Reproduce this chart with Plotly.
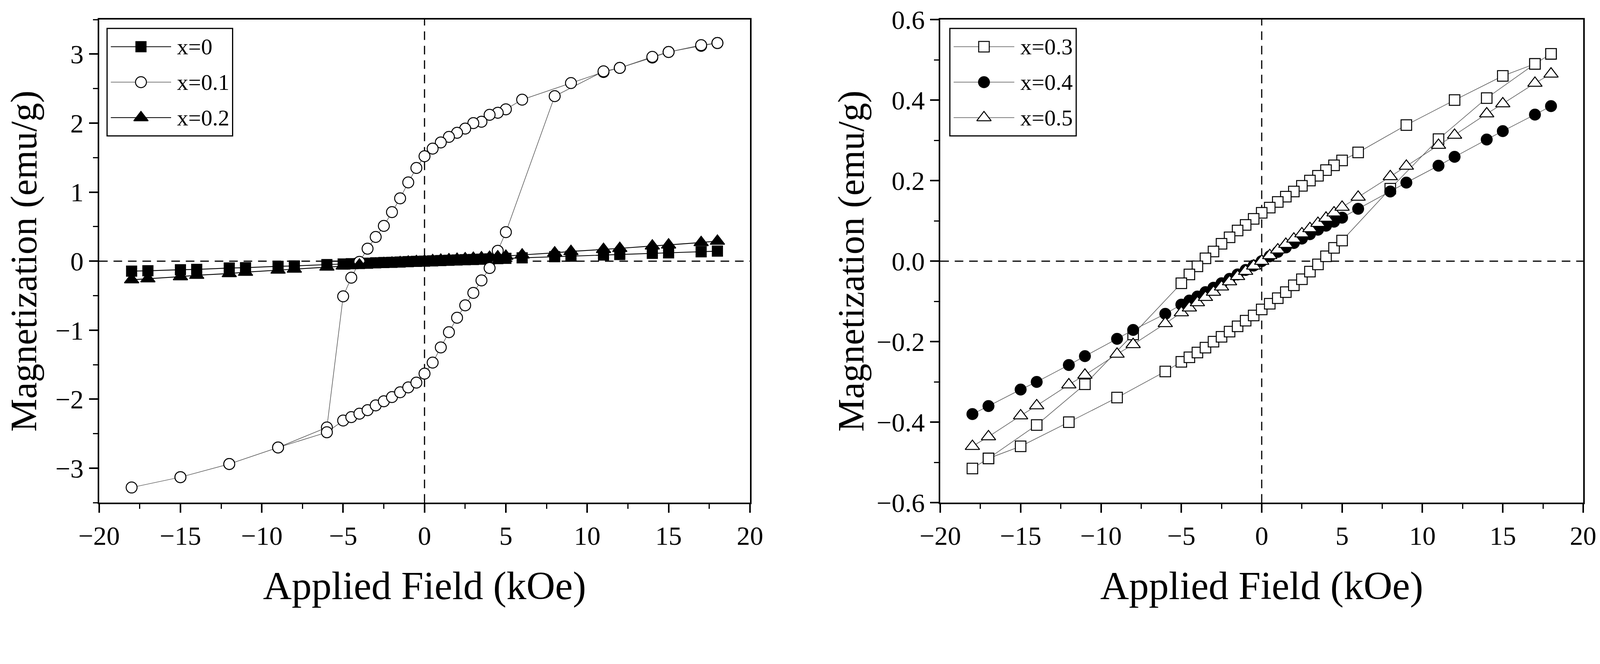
import plotly.graph_objects as go

# ---- left panel: x = 0, 0.1, 0.2 ----
H_x0 = [-18, -17, -15, -14, -12, -11, -9, -8, -6, -5, -4.5, -4, -3.5, -3, -2.5, -2, -1.5, -1, -0.5,
        0, 0.5, 1, 1.5, 2, 2.5, 3, 3.5, 4, 4.5, 5, 6, 8, 9, 11, 12, 14, 15, 17, 18]
M_x0 = [-0.145, -0.14, -0.125, -0.12, -0.10, -0.095, -0.075, -0.07, -0.05, -0.042, -0.038, -0.034,
        -0.03, -0.025, -0.021, -0.017, -0.013, -0.008, -0.004, 0.0, 0.004, 0.008, 0.012, 0.016, 0.02,
        0.024, 0.028, 0.032, 0.036, 0.04, 0.048, 0.064, 0.072, 0.088, 0.096, 0.112, 0.12, 0.136, 0.145]

H_x02 = H_x0
M_x02 = [-0.27, -0.255, -0.225, -0.205, -0.18, -0.16, -0.13, -0.115, -0.085, -0.07, -0.063, -0.056,
         -0.049, -0.042, -0.035, -0.028, -0.021, -0.014, -0.007, 0.0, 0.007, 0.014, 0.021, 0.028, 0.035,
         0.042, 0.049, 0.056, 0.063, 0.072, 0.09, 0.12, 0.14, 0.17, 0.185, 0.22, 0.235, 0.27, 0.29]

# x = 0.1 loop: descending branch then ascending branch
H_x01 = [18, 17, 15, 14, 12, 11, 9, 6, 5, 4.5, 4, 3.5, 3, 2.5, 2, 1.5, 1, 0.5, 0, -0.5, -1, -1.5, -2,
         -2.5, -3, -3.5, -4, -4.5, -5, -6, -9, -12, -15, -18,
         -15, -12, -9, -6, -5, -4.5, -4, -3.5, -3, -2.5, -2, -1.5, -1, -0.5, 0, 0.5, 1, 1.5, 2, 2.5,
         3, 3.5, 4, 4.5, 5, 8, 11, 12, 14, 15, 17, 18]
M_x01 = [3.16, 3.12, 3.03, 2.95, 2.80, 2.74, 2.58, 2.34, 2.20, 2.15, 2.12, 2.02, 2.00, 1.92, 1.86,
         1.80, 1.72, 1.63, 1.52, 1.35, 1.14, 0.91, 0.71, 0.51, 0.35, 0.18, -0.01, -0.24, -0.51,
         -2.41, -2.70, -2.94, -3.13, -3.28,
         -3.13, -2.94, -2.70, -2.48, -2.31, -2.26, -2.21, -2.16, -2.09, -2.03, -1.97, -1.90, -1.83,
         -1.76, -1.63, -1.47, -1.25, -1.03, -0.82, -0.64, -0.46, -0.28, -0.10, 0.15, 0.42,
         2.39, 2.75, 2.80, 2.96, 3.03, 3.13, 3.16]

# ---- right panel: x = 0.3, 0.4, 0.5 ----
H_x03 = [18, 17, 15, 12, 9, 6, 5, 4.5, 4, 3.5, 3, 2.5, 2, 1.5, 1, 0.5, 0, -0.5, -1, -1.5, -2, -2.5,
         -3, -3.5, -4, -4.5, -5, -8, -11, -14, -17, -18,
         -17, -15, -12, -9, -6, -5, -4.5, -4, -3.5, -3, -2.5, -2, -1.5, -1, -0.5, 0, 0.5, 1, 1.5, 2,
         2.5, 3, 3.5, 4, 4.5, 5, 8, 11, 14, 17, 18]
M_x03 = [0.515, 0.49, 0.46, 0.40, 0.338, 0.27, 0.25, 0.238, 0.226, 0.212, 0.20, 0.187, 0.173, 0.16,
         0.147, 0.133, 0.12, 0.105, 0.09, 0.076, 0.059, 0.043, 0.024, 0.007, -0.013, -0.033, -0.055,
         -0.182, -0.306, -0.407, -0.49, -0.515,
         -0.49, -0.46, -0.40, -0.339, -0.274, -0.25, -0.239, -0.227, -0.215, -0.20, -0.188, -0.175,
         -0.162, -0.148, -0.135, -0.12, -0.106, -0.092, -0.077, -0.06, -0.045, -0.026, -0.008, 0.012,
         0.033, 0.051, 0.18, 0.303, 0.405, 0.49, 0.515]

H_x04 = [-18, -17, -15, -14, -12, -11, -9, -8, -6, -5, -4.5, -4, -3.5, -3, -2.5, -2, -1.5, -1, -0.5,
         0, 0.5, 1, 1.5, 2, 2.5, 3, 3.5, 4, 4.5, 5, 6, 8, 9, 11, 12, 14, 15, 17, 18]
M_x04 = [-0.38, -0.36, -0.319, -0.30, -0.258, -0.236, -0.193, -0.171, -0.131, -0.108, -0.098, -0.088,
         -0.077, -0.066, -0.055, -0.044, -0.033, -0.022, -0.011, 0.0, 0.012, 0.023, 0.034, 0.045, 0.056,
         0.067, 0.078, 0.088, 0.098, 0.108, 0.13, 0.173, 0.195, 0.237, 0.259, 0.302, 0.323, 0.364, 0.385]

H_x05 = H_x04
M_x05 = [-0.46, -0.436, -0.384, -0.359, -0.307, -0.283, -0.231, -0.207, -0.155, -0.128, -0.116, -0.103,
         -0.09, -0.077, -0.064, -0.051, -0.038, -0.025, -0.012, 0.0, 0.014, 0.028, 0.042, 0.055, 0.068,
         0.081, 0.094, 0.107, 0.12, 0.134, 0.159, 0.21, 0.236, 0.288, 0.313, 0.366, 0.391, 0.442, 0.465]

LEFT_NAMES = ["x=0", "x=0.1", "x=0.2"]
RIGHT_NAMES = ["x=0.3", "x=0.4", "x=0.5"]

FONT = "Liberation Serif"

fig = go.Figure()

# style per series: symbol, fill, size, line width, line colour
styles = {
    "x=0": ("square", "black", 26, 2.2, "black"),
    "x=0.1": ("circle", "white", 28, 1.5, "#555555"),
    "x=0.2": ("triangle-up", "black", 32, 2.2, "black"),
    "x=0.3": ("square", "white", 27, 1.5, "#555555"),
    "x=0.4": ("circle", "black", 28, 1.5, "#555555"),
    "x=0.5": ("triangle-up", "white", 32, 1.5, "#555555"),
}


def add(h, m, name, xa, ya):
    sym, fill, size, lw, lc = styles[name]
    fig.add_trace(go.Scatter(
        x=h, y=m, name=name, mode="lines+markers", showlegend=False,
        xaxis=xa, yaxis=ya,
        line=dict(color=lc, width=lw),
        marker=dict(symbol=sym, size=size, color=fill, line=dict(color="black", width=2.5)),
    ))


add(H_x0, M_x0, "x=0", "x", "y")
add(H_x01, M_x01, "x=0.1", "x", "y")
add(H_x02, M_x02, "x=0.2", "x", "y")
add(H_x03, M_x03, "x=0.3", "x2", "y2")
add(H_x04, M_x04, "x=0.4", "x2", "y2")
add(H_x05, M_x05, "x=0.5", "x2", "y2")

# boxed legends drawn on small helper axes (range 0..1) so the sample line is long like the original
for names, xa, ya in [(LEFT_NAMES, "x3", "y3"), (RIGHT_NAMES, "x4", "y4")]:
    for i, name in enumerate(names):
        sym, fill, size, lw, lc = styles[name]
        row = 0.83 - 0.33 * i
        fig.add_trace(go.Scatter(x=[0.03, 0.51], y=[row, row], mode="lines", showlegend=False,
                                 xaxis=xa, yaxis=ya, line=dict(color=lc, width=lw), hoverinfo="skip"))
        fig.add_trace(go.Scatter(x=[0.27], y=[row], mode="markers", showlegend=False,
                                 xaxis=xa, yaxis=ya, hoverinfo="skip",
                                 marker=dict(symbol=sym, size=size, color=fill,
                                             line=dict(color="black", width=2.5))))
        fig.add_annotation(x=0.55, y=row, xref=xa, yref=ya, text=name, showarrow=False,
                           xanchor="left", yanchor="middle",
                           font=dict(family=FONT, size=58, color="black"))
    fig.add_shape(type="rect", xref=xa + " domain", yref=ya + " domain", x0=0, x1=1, y0=0, y1=1,
                  line=dict(color="black", width=3))

# dashed zero lines
for xr, yr in [("x", "y"), ("x2", "y2")]:
    fig.add_shape(type="line", xref=xr + " domain", yref=yr, x0=0, x1=1, y0=0, y1=0,
                  line=dict(color="black", width=3, dash="22px,15px"), layer="below")
    fig.add_shape(type="line", xref=xr, yref=yr + " domain", x0=0, x1=0, y0=0, y1=1,
                  line=dict(color="black", width=3, dash="22px,15px"), layer="below")

axis_common = dict(
    showline=True, linecolor="black", linewidth=4, mirror=True,
    ticks="outside", ticklen=22, tickwidth=4, tickcolor="black",
    showgrid=False, zeroline=False, automargin=False,
    tickfont=dict(family=FONT, size=68, color="black"),
)
xtitle_font = dict(family=FONT, size=102, color="black")
ytitle_font = dict(family=FONT, size=95, color="black")
hidden = dict(visible=False, range=[0, 1], fixedrange=True, showgrid=False, zeroline=False)

# the page is photographed slightly enlarged, so the figure is sized a little under the window
fig.update_layout(
    width=4094, height=1618,
    paper_bgcolor="white", plot_bgcolor="white",
    margin=dict(l=0, r=0, t=0, b=0, autoexpand=False),
    showlegend=False,
    xaxis=dict(domain=[0.060, 0.467], range=[-20, 20], dtick=5, anchor="y",
               title=dict(text="Applied Field (kOe)", standoff=55, font=xtitle_font),
               minor=dict(ticks="outside", ticklen=12, tickwidth=3, dtick=2.5, tickcolor="black"),
               **axis_common),
    yaxis=dict(domain=[0.21, 0.974], range=[-3.5, 3.5], dtick=1, anchor="x",
               title=dict(text="Magnetization (emu/g)", standoff=60, font=ytitle_font),
               minor=dict(ticks="outside", ticklen=12, tickwidth=3, dtick=0.5, tickcolor="black"),
               **axis_common),
    xaxis2=dict(domain=[0.586, 0.988], range=[-20, 20], dtick=5, anchor="y2",
                title=dict(text="Applied Field (kOe)", standoff=55, font=xtitle_font),
                minor=dict(ticks="outside", ticklen=12, tickwidth=3, dtick=2.5, tickcolor="black"),
                **axis_common),
    yaxis2=dict(domain=[0.21, 0.974], range=[-0.6, 0.6], dtick=0.2, tickformat=".1f", anchor="x2",
                title=dict(text="Magnetization (emu/g)", standoff=2, font=ytitle_font),
                minor=dict(ticks="outside", ticklen=12, tickwidth=3, dtick=0.1, tickcolor="black"),
                **axis_common),
    xaxis3=dict(domain=[0.065, 0.1435], anchor="y3", **hidden),
    yaxis3=dict(domain=[0.79, 0.96], anchor="x3", **hidden),
    xaxis4=dict(domain=[0.592, 0.671], anchor="y4", **hidden),
    yaxis4=dict(domain=[0.79, 0.96], anchor="x4", **hidden),
)

fig.write_html("out.html")
